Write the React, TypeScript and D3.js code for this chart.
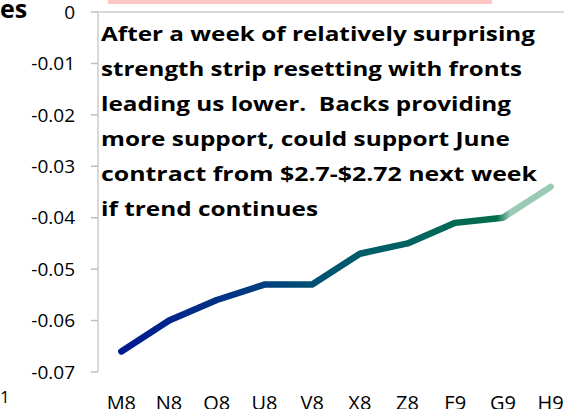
import React from "react";
import * as d3 from "d3";

const categories = ["M8", "N8", "Q8", "U8", "V8", "X8", "Z8", "F9", "G9", "H9"];
const spreadValues = [-0.066, -0.06, -0.056, -0.053, -0.053, -0.047, -0.045, -0.041, -0.04, -0.034];
const yTicks = [0, -0.01, -0.02, -0.03, -0.04, -0.05, -0.06, -0.07];
const yTickLabels = ["0", "-0.01", "-0.02", "-0.03", "-0.04", "-0.05", "-0.06", "-0.07"];
const noteLines = [
  "After a week of relatively surprising",
  "strength strip resetting with fronts",
  "leading us lower.  Backs providing",
  "more support, could support June",
  "contract from $2.7-$2.72 next week",
  "if trend continues",
];
const noteLineWidths = [434, 421, 410, 409, 436, 217];

const W = 564;
const H = 409;

export default function App() {
  const x = d3.scaleBand<string>().domain(categories).range([97.5, 97.5 + 477]);
  const y = d3.scaleLinear().domain([-0.07, 0]).range([372, 12]);
  const cx = (c: string) => (x(c) as number) + x.bandwidth() / 2;
  const line = d3
    .line<number>()
    .x((_, i) => cx(categories[i]))
    .y((d) => y(d));
  const path = line(spreadValues) || "";
  const x0 = cx(categories[0]);
  const x1 = cx(categories[categories.length - 1]);
  const font = "'Open Sans', Lato, sans-serif";

  return (
    <svg
      width={W}
      height={H}
      style={{ position: "absolute", left: 0, top: 0, background: "#fff" }}
      fontFamily={font}
    >
      <defs>
        <linearGradient id="lg" gradientUnits="userSpaceOnUse" x1={x0} y1={0} x2={x1} y2={0}>
          <stop offset="0" stopColor="#00198f" />
          <stop offset="0.3" stopColor="#003a82" />
          <stop offset="0.5" stopColor="#00576e" />
          <stop offset="0.7" stopColor="#00665e" />
          <stop offset="0.875" stopColor="#006e48" />
          <stop offset="0.905" stopColor="#9ac9b4" />
          <stop offset="1" stopColor="#9ac9b4" />
        </linearGradient>
      </defs>

      {/* pink box edge */}
      <rect x={108} y={0} width={384} height={4} fill="#ffc6c6" />

      {/* cropped title fragment */}
      <text x={0} y={18} fontSize={25} fontWeight={700} fill="#000">
        es
      </text>
      <text x={0} y={403} fontSize={17} fill="#000">
        1
      </text>

      {/* category axis at zero */}
      <line x1={97} x2={W} y1={y(0)} y2={y(0)} stroke="#d9d9d9" strokeWidth={2} />
      {/* value axis */}
      <line x1={98} x2={98} y1={y(0)} y2={y(-0.07)} stroke="#d9d9d9" strokeWidth={2} />
      {yTicks.map((t, i) => (
        <g key={t}>
          <line x1={91} x2={98} y1={y(t)} y2={y(t)} stroke="#bfbfbf" strokeWidth={1.5} />
          <text
            x={75}
            y={y(t)}
            dy="0.35em"
            textAnchor="end"
            fontSize={19}
            fill="#000"
          >
            {yTickLabels[i]}
          </text>
        </g>
      ))}

      {categories.map((c) => (
        <text key={c} x={cx(c)} y={410} textAnchor="middle" fontSize={20} fill="#000">
          {c}
        </text>
      ))}

      <path
        d={path}
        fill="none"
        stroke="url(#lg)"
        strokeWidth={6.5}
        strokeLinecap="round"
        strokeLinejoin="round"
      />

      {noteLines.map((t, i) => (
        <text
          key={i}
          x={101}
          y={41 + 35 * i}
          fontSize={20}
          fontWeight={700}
          fill="#000"
          style={{ whiteSpace: "pre" }}
          textLength={noteLineWidths[i]}
          lengthAdjust="spacingAndGlyphs"
        >
          {t}
        </text>
      ))}
    </svg>
  );
}
